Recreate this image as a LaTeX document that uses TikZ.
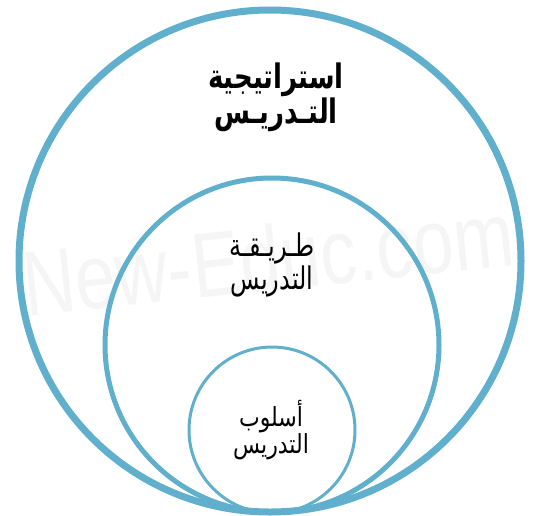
\documentclass[tikz,border=0pt]{standalone}
\usepackage{fontspec}
\setmainfont{DejaVu Sans}
\newfontfamily\arabicfont[Script=Arabic]{DejaVu Sans}
\newfontfamily\markfont{Liberation Sans}
\TeXXeTstate=1
\definecolor{ringblue}{RGB}{96,175,204}

\begin{document}
\begin{tikzpicture}
  [x=1pt,y=-1pt,
   ring/.style={draw=ringblue},
   arabtext/.style={align=center,yscale=1.3}]
  \useasboundingbox (0,0) rectangle (533,515);
  % watermark
  \node[rotate=6,xscale=0.79,text=black!4,font=\markfont\fontsize{92}{92}\selectfont] (wm) at (268,258) {New-Educ.com};
  % the three circles, tangent at the bottom
  \draw[ring,line width=7pt] (270,261) circle (251);
  \draw[ring,line width=5pt] (272,345) circle (167);
  \draw[ring,line width=3pt] (272,430) circle (83);
  % texts
  \node[arabtext,font=\arabicfont\bfseries\fontsize{26}{25}\selectfont] (strat) at (276,97) {\beginR استراتيجية\endR\\\beginR التـدريـس\endR};
  \node[arabtext,font=\arabicfont\fontsize{24}{22}\selectfont] (meth) at (272,265) {\beginR طـريـقـة\endR\\\beginR التدريس\endR};
  \node[arabtext,yscale=0.92,font=\arabicfont\fontsize{22}{21}\selectfont] (styl) at (271,430) {\beginR أسلوب\endR\\\beginR التدريس\endR};
\end{tikzpicture}
\end{document}
